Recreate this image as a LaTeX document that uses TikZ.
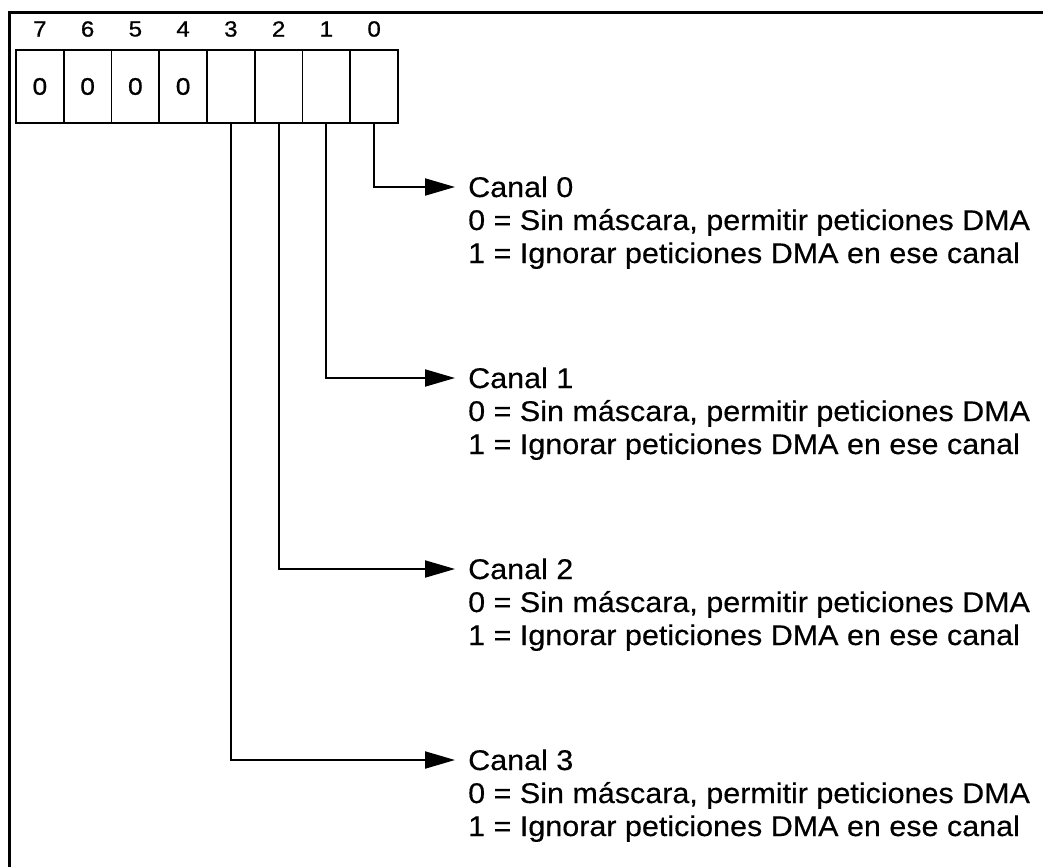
\documentclass[tikz,border=0pt]{standalone}
\usepackage{fontspec}
\setmainfont{Liberation Sans}
\newfontfamily\widesans[FakeStretch=1.07,FakeBold=0.4]{Liberation Sans}
\newfontfamily\digitsans[FakeStretch=1.1,FakeBold=0.8]{Liberation Sans}
\usetikzlibrary{arrows.meta}
\begin{document}
\begin{tikzpicture}[x=1pt,y=-1pt,
  cell/.style={draw, line width=1.8pt, minimum width=47.75pt, minimum height=73pt,
    inner sep=0pt, font=\digitsans\fontsize{24}{24}\selectfont},
  bitnum/.style={inner sep=0pt, font=\digitsans\fontsize{22}{22}\selectfont},
  lead/.style={line width=2pt, -{Triangle[length=30pt,width=17pt]}},
  desc/.style={anchor=base west, inner sep=0pt, font=\widesans\fontsize{28.5}{28.5}\selectfont}]
\useasboundingbox (0,0) rectangle (1043,867);
% open frame: left edge and top edge
\draw[line width=3.2pt] (9.5,867) -- (9.5,12.5) -- (1043,12.5);
% mask register, bits 7..0
\foreach \b/\v in {7/0,6/0,5/0,4/0,3/{},2/{},1/{},0/{}} {
  \pgfmathsetmacro{\cx}{16+(7-\b)*47.75+23.875}
  \node[cell] (c\b) at (\cx,86.5) {\v};
  \node[bitnum] (n\b) at (\cx,29) {\b};
}
% one lead and one description per channel
\foreach \b in {0,1,2,3} {
  \pgfmathsetmacro{\ly}{187+\b*191}
  \coordinate (tip\b) at (455,\ly);
  \node[desc] (t\b) at (468,\ly+10) {Canal \b};
  \node[desc] (a\b) at (468,\ly+43) {0 = Sin máscara, permitir peticiones DMA};
  \node[desc] (z\b) at (468,\ly+76) {1 = Ignorar peticiones DMA en ese canal};
  \draw[lead] (c\b.south) |- (tip\b);
}
\end{tikzpicture}
\end{document}
